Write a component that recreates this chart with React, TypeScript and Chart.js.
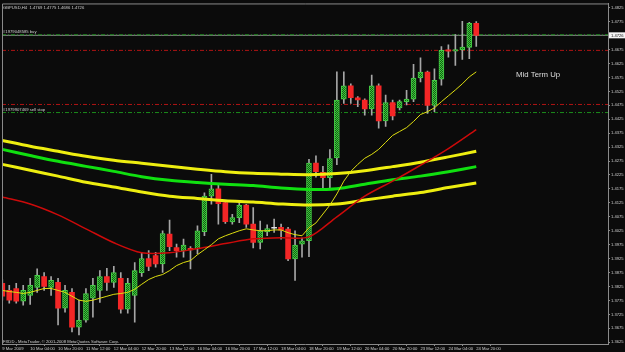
import React, { useEffect, useRef } from "react";
import { Chart, registerables } from "chart.js";

Chart.register(...registerables);

// ---------- data ----------
const SYMBOL = "GBPUSD,H4";
const TIME_LABELS = [
  "9 Mar 2009", "10 Mar 04:00", "10 Mar 20:00", "11 Mar 12:00", "12 Mar 04:00", "12 Mar 20:00",
  "13 Mar 12:00", "16 Mar 04:00", "16 Mar 20:00", "17 Mar 12:00", "18 Mar 04:00", "18 Mar 20:00",
  "19 Mar 12:00", "20 Mar 04:00", "20 Mar 20:00", "23 Mar 12:00", "24 Mar 04:00", "24 Mar 20:00",
];
const TIME_LABEL_STEP = 4;

const OPEN = [
  1.3836, 1.3811, 1.3818, 1.3772, 1.3793, 1.3822, 1.3861, 1.3822, 1.3840, 1.3747,
  1.3804, 1.3679, 1.3704, 1.3783, 1.3811, 1.3861, 1.3840, 1.3854, 1.3744, 1.3793,
  1.3875, 1.3925, 1.3936, 1.3906, 1.4013, 1.3965, 1.3954, 1.3962, 1.3960, 1.4022,
  1.4149, 1.4175, 1.4126, 1.4057, 1.4072, 1.4117, 1.4049, 1.3983, 1.4021, 1.4034,
  1.4037, 1.4031, 1.3924, 1.3977, 1.3989, 1.4268, 1.4235, 1.4215, 1.4286, 1.4497,
  1.4545, 1.4502, 1.4494, 1.4462, 1.4545, 1.4419, 1.4485, 1.4466, 1.4488, 1.4497,
  1.4573, 1.4594, 1.4475, 1.4569, 1.4674, 1.4669, 1.4674, 1.4683, 1.4769,
];
const HIGH = [
  1.3850, 1.3829, 1.3836, 1.3829, 1.3854, 1.3888, 1.3875, 1.3861, 1.3854, 1.3829,
  1.3818, 1.3776, 1.3818, 1.3854, 1.3882, 1.3890, 1.3897, 1.3875, 1.3854, 1.3911,
  1.3947, 1.3954, 1.3948, 1.4025, 1.4063, 1.3977, 1.3995, 1.3968, 1.4043, 1.4161,
  1.4227, 1.4191, 1.4132, 1.4084, 1.4128, 1.4120, 1.4108, 1.4060, 1.4046, 1.4067,
  1.4049, 1.4037, 1.4025, 1.3999, 1.4281, 1.4294, 1.4256, 1.4316, 1.4595, 1.4595,
  1.4552, 1.4506, 1.4498, 1.4583, 1.4552, 1.4512, 1.4494, 1.4494, 1.4529, 1.4622,
  1.4645, 1.4598, 1.4606, 1.4686, 1.4692, 1.4729, 1.4776, 1.4773, 1.4775,
];
const LOW = [
  1.3776, 1.3765, 1.3765, 1.3758, 1.3761, 1.3804, 1.3811, 1.3793, 1.3687, 1.3733,
  1.3662, 1.3651, 1.3697, 1.3715, 1.3768, 1.3811, 1.3822, 1.3729, 1.3729, 1.3697,
  1.3861, 1.3882, 1.3894, 1.3876, 1.3954, 1.3930, 1.3930, 1.3888, 1.3942, 1.4007,
  1.4120, 1.4049, 1.4051, 1.4049, 1.4054, 1.4037, 1.3963, 1.3960, 1.4007, 1.4019,
  1.3995, 1.3918, 1.3847, 1.3930, 1.3932, 1.4217, 1.4176, 1.4179, 1.4262, 1.4482,
  1.4482, 1.4470, 1.4440, 1.4440, 1.4393, 1.4399, 1.4423, 1.4458, 1.4476, 1.4488,
  1.4559, 1.4446, 1.4452, 1.4547, 1.4648, 1.4618, 1.4640, 1.4642, 1.4686,
];
const CLOSE = [
  1.3790, 1.3776, 1.3772, 1.3811, 1.3829, 1.3865, 1.3825, 1.3847, 1.3747, 1.3811,
  1.3679, 1.3704, 1.3800, 1.3829, 1.3861, 1.3840, 1.3875, 1.3744, 1.3836, 1.3882,
  1.3925, 1.3897, 1.3906, 1.4015, 1.3968, 1.3954, 1.3974, 1.3956, 1.4025, 1.4149,
  1.4175, 1.4122, 1.4058, 1.4072, 1.4116, 1.4049, 1.3983, 1.4025, 1.4033, 1.4035,
  1.4027, 1.3924, 1.3974, 1.3989, 1.4268, 1.4237, 1.4215, 1.4284, 1.4494, 1.4545,
  1.4502, 1.4494, 1.4462, 1.4545, 1.4419, 1.4485, 1.4437, 1.4488, 1.4497, 1.4573,
  1.4594, 1.4475, 1.4565, 1.4672, 1.4669, 1.4675, 1.4684, 1.4769, 1.4726,
];

// slow moving averages, sampled every 4 bars
const MA_BARS = [0, 4, 8, 12, 16, 20, 24, 28, 32, 36, 40, 44, 48, 52, 56, 60, 64, 68];
const MA_UPPER = [1.4349, 1.4328, 1.4310, 1.4292, 1.4278, 1.4267, 1.4256, 1.4246, 1.4237, 1.4231, 1.4228, 1.4226, 1.4230, 1.4240, 1.4255, 1.4271, 1.4290, 1.4310];
const MA_MID = [1.4317, 1.4295, 1.4274, 1.4256, 1.4238, 1.4219, 1.4206, 1.4198, 1.4192, 1.4187, 1.4178, 1.4173, 1.4176, 1.4192, 1.4208, 1.4221, 1.4237, 1.4255];
const MA_LOWER = [1.4263, 1.4242, 1.4221, 1.4199, 1.4182, 1.4164, 1.4149, 1.4141, 1.4133, 1.4128, 1.4121, 1.4117, 1.4121, 1.4135, 1.4149, 1.4162, 1.4180, 1.4196];
const MA_RED = [1.4146, 1.4121, 1.4082, 1.4032, 1.3982, 1.3946, 1.3946, 1.3961, 1.3979, 1.3996, 1.4000, 1.4003, 1.4075, 1.4149, 1.4203, 1.4260, 1.4320, 1.4388];
// fast moving average, every bar
const MA_FAST = [
  1.3811, 1.3807, 1.3804, 1.3800, 1.3804, 1.3811, 1.3818, 1.3818, 1.3811, 1.3804,
  1.3790, 1.3776, 1.3772, 1.3776, 1.3783, 1.3790, 1.3797, 1.3800, 1.3804, 1.3815,
  1.3833, 1.3850, 1.3861, 1.3868, 1.3882, 1.3900, 1.3911, 1.3918, 1.3939, 1.3957,
  1.3975, 1.3996, 1.4007, 1.4016, 1.4025, 1.4032, 1.4028, 1.4025, 1.4025, 1.4028,
  1.4028, 1.4018, 1.4011, 1.4007, 1.4036, 1.4053, 1.4085, 1.4117, 1.4157, 1.4203,
  1.4238, 1.4263, 1.4285, 1.4299, 1.4317, 1.4342, 1.4367, 1.4381, 1.4395, 1.4417,
  1.4442, 1.4452, 1.4466, 1.4488, 1.4509, 1.4530, 1.4552, 1.4577, 1.4595,
];

const PRICE_TICKS = [
  1.3625, 1.3675, 1.3725, 1.3775, 1.3825, 1.3875, 1.3925, 1.3975, 1.4025, 1.4075,
  1.4125, 1.4175, 1.4225, 1.4275, 1.4325, 1.4375, 1.4425, 1.4475, 1.4525, 1.4575,
  1.4625, 1.4675, 1.4725, 1.4775, 1.4825,
];

const BUY_PRICE = 1.4728;
const BUY_STOP_LOSS = 1.4672;
const SELL_STOP_PRICE = 1.4449;
const SELL_STOP_LOSS = 1.4478;
const BUY_LABEL = "#1979048585 buy";
const SELL_LABEL = "#1979907469 sell stop";
const NOTE = "Mid Term Up";
const FOOTER = "FXDD - MetaTrader, \u00a9 2001-2008 MetaQuotes Software Corp.";

// ---------- view ----------
const X_MIN = -0.043;
const X_MAX = 86.9;
const Y_MIN = 1.36188;
const Y_MAX = 1.48403;

const BG = "#0b0b0b";
const FRAME = "#8a8a8a";
const TEXT = "#cfcfcf";
const WICK = "#a6a6a6";
const BEAR = "#f42626";
const SMALL_FONT = "'Liberation Sans', Arial, sans-serif";

export default function App() {
  const ref = useRef<HTMLCanvasElement>(null);

  useEffect(() => {
    document.body.style.margin = "0";
    document.body.style.background = BG;
    const canvas = ref.current!;
    const pc = document.createElement("canvas");
    pc.width = 2;
    pc.height = 2;
    const pctx = pc.getContext("2d")!;
    pctx.fillStyle = "#145a14";
    pctx.fillRect(0, 0, 2, 2);
    pctx.fillStyle = "#3ccc3c";
    pctx.fillRect(0, 0, 1, 1);
    pctx.fillRect(1, 1, 1, 1);
    const bullFill = canvas.getContext("2d")!.createPattern(pc, "repeat")!;

    const idx = OPEN.map((_, i) => i);
    const last = CLOSE.length - 1;
    const isBull = (i: number) => CLOSE[i] >= OPEN[i];
    const isDoji = (i: number) => Math.abs(CLOSE[i] - OPEN[i]) < 0.00025;

    const level = (v: number) => [
      { x: X_MIN, y: v },
      { x: X_MAX, y: v },
    ];
    const sampled = (vals: number[]) => MA_BARS.map((b, k) => ({ x: b, y: vals[k] }));

    const bgPlugin = {
      id: "bg",
      beforeDraw(c: any) {
        const ctx = c.ctx;
        ctx.save();
        ctx.fillStyle = BG;
        ctx.fillRect(0, 0, c.width, c.height);
        ctx.restore();
      },
    };

    const textPlugin = {
      id: "texts",
      afterDraw(c: any) {
        const ctx = c.ctx;
        const a = c.chartArea;
        const ys = c.scales.y;
        ctx.save();
        // frame top/left
        ctx.strokeStyle = FRAME;
        ctx.lineWidth = 1;
        ctx.beginPath();
        ctx.moveTo(a.left + 0.5, a.bottom);
        ctx.lineTo(a.left + 0.5, a.top + 0.5);
        ctx.lineTo(a.right, a.top + 0.5);
        ctx.stroke();

        ctx.fillStyle = TEXT;
        ctx.textBaseline = "alphabetic";
        ctx.textAlign = "left";
        ctx.font = `4.2px ${SMALL_FONT}`;
        const header = `${SYMBOL}  ${OPEN[last].toFixed(4)} ${HIGH[last].toFixed(4)} ${LOW[last].toFixed(4)} ${CLOSE[last].toFixed(4)}`;
        ctx.fillText(header, a.left + 1, a.top + 6);
        ctx.fillText(BUY_LABEL, a.left + 1, ys.getPixelForValue(BUY_PRICE) - 1.5);
        ctx.fillText(SELL_LABEL, a.left + 1, ys.getPixelForValue(SELL_STOP_PRICE) - 1.5);
        ctx.fillText(FOOTER, a.left + 1, a.bottom - 1.5);

        ctx.fillStyle = "#dedede";
        ctx.font = `7.8px ${SMALL_FONT}`;
        ctx.fillText(NOTE, 516, 77);

        // bid label
        const py = ys.getPixelForValue(CLOSE[last]);
        ctx.fillStyle = "#f4f4f4";
        ctx.fillRect(a.right + 1, py - 3, c.width - a.right - 1, 6);
        ctx.fillStyle = "#101010";
        ctx.font = `4.1px ${SMALL_FONT}`;
        ctx.textBaseline = "middle";
        ctx.fillText(CLOSE[last].toFixed(4), a.right + 3, py + 0.3);
        ctx.restore();
      },
    };

    const chart = new Chart(canvas, {
      type: "bar",
      data: {
        datasets: [
          {
            type: "line",
            label: "buy",
            data: level(BUY_PRICE),
            borderColor: "#1c8c1c",
            borderWidth: 1,
            borderDash: [4, 2, 1, 2],
            pointRadius: 0,
            order: 20,
          } as any,
          {
            type: "line",
            label: "bid",
            data: level(CLOSE[last]),
            borderColor: "#8e8e8e",
            borderWidth: 1,
            pointRadius: 0,
            order: 21,
          } as any,
          {
            type: "line",
            label: "buy sl",
            data: level(BUY_STOP_LOSS),
            borderColor: "#b01414",
            borderWidth: 1,
            borderDash: [4, 2, 1, 2],
            pointRadius: 0,
            order: 20,
          } as any,
          {
            type: "line",
            label: "sell stop",
            data: level(SELL_STOP_PRICE),
            borderColor: "#1c8c1c",
            borderWidth: 1,
            borderDash: [4, 2, 1, 2],
            pointRadius: 0,
            order: 20,
          } as any,
          {
            type: "line",
            label: "sell sl",
            data: level(SELL_STOP_LOSS),
            borderColor: "#b01414",
            borderWidth: 1,
            borderDash: [4, 2, 1, 2],
            pointRadius: 0,
            order: 20,
          } as any,
          {
            type: "bar",
            label: "wick",
            data: idx.map((i) => ({ x: i, y: [LOW[i], HIGH[i]] })),
            backgroundColor: WICK,
            barThickness: 1,
            grouped: false,
            order: 10,
          } as any,
          {
            type: "bar",
            label: "body",
            data: idx.map((i) => ({ x: i, y: [OPEN[i], CLOSE[i]] })),
            backgroundColor: (c: any) => {
              const i = c.dataIndex;
              if (i == null) return BEAR;
              if (isDoji(i)) return "#e0e0e0";
              return isBull(i) ? bullFill : BEAR;
            },
            borderColor: (c: any) => {
              const i = c.dataIndex;
              if (i == null) return "#44d044";
              if (isDoji(i)) return "#e0e0e0";
              return isBull(i) ? "#46cc46" : BEAR;
            },
            borderWidth: (c: any) => {
              const i = c.dataIndex;
              if (i == null) return 0;
              return isBull(i) && !isDoji(i) ? 1 : 0;
            },
            borderSkipped: false,
            barThickness: 5,
            minBarLength: 1,
            grouped: false,
            order: 9,
          } as any,
          {
            type: "line",
            label: "upper",
            data: sampled(MA_UPPER),
            borderColor: "#eeee10",
            borderWidth: 3,
            pointRadius: 0,
            tension: 0.3,
            order: 3,
          } as any,
          {
            type: "line",
            label: "mid",
            data: sampled(MA_MID),
            borderColor: "#10e010",
            borderWidth: 3,
            pointRadius: 0,
            tension: 0.3,
            order: 3,
          } as any,
          {
            type: "line",
            label: "lower",
            data: sampled(MA_LOWER),
            borderColor: "#eeee10",
            borderWidth: 3,
            pointRadius: 0,
            tension: 0.3,
            order: 3,
          } as any,
          {
            type: "line",
            label: "red",
            data: sampled(MA_RED),
            borderColor: "#cc0a0a",
            borderWidth: 1.5,
            pointRadius: 0,
            tension: 0.3,
            order: 2,
          } as any,
          {
            type: "line",
            label: "fast",
            data: idx.map((i) => ({ x: i, y: MA_FAST[i] })),
            borderColor: "#dede10",
            borderWidth: 1,
            pointRadius: 0,
            tension: 0,
            order: 1,
          } as any,
        ],
      },
      options: {
        responsive: false,
        devicePixelRatio: 1,
        animation: false,
        events: [],
        layout: { padding: { left: 2, top: 1, right: 0, bottom: 0 } },
        plugins: { legend: { display: false }, tooltip: { enabled: false } },
        scales: {
          x: {
            type: "linear",
            position: "bottom",
            min: X_MIN,
            max: X_MAX,
            offset: false,
            afterBuildTicks: (s: any) => {
              s.ticks = TIME_LABELS.map((_, k) => ({ value: k * TIME_LABEL_STEP }));
            },
            afterFit: (s: any) => {
              s.height = 8;
            },
            ticks: {
              autoSkip: false,
              maxRotation: 0,
              minRotation: 0,
              align: "start",
              padding: 0,
              color: TEXT,
              font: { size: 4.2, family: SMALL_FONT },
              callback: (_v: any, k: number) => TIME_LABELS[k],
            },
            grid: { drawOnChartArea: false, tickLength: 2, color: FRAME },
            border: { color: FRAME },
          },
          y: {
            type: "linear",
            position: "right",
            min: Y_MIN,
            max: Y_MAX,
            afterBuildTicks: (s: any) => {
              s.ticks = PRICE_TICKS.filter((t) => Math.abs(t - CLOSE[CLOSE.length - 1]) > 0.002).map((v) => ({ value: v }));
            },
            afterFit: (s: any) => {
              s.width = 17;
            },
            ticks: {
              padding: 1,
              color: TEXT,
              font: { size: 4.1, family: SMALL_FONT },
              callback: (v: any) => Number(v).toFixed(4),
            },
            grid: { drawOnChartArea: false, tickLength: 2, color: FRAME },
            border: { color: FRAME },
          },
        },
      } as any,
      plugins: [bgPlugin, textPlugin],
    });
    return () => chart.destroy();
  }, []);

  return (
    <div style={{ position: "fixed", left: 0, top: 0, width: 625, height: 352, background: BG }}>
      <canvas ref={ref} width={625} height={352} style={{ display: "block", width: 625, height: 352 }} />
    </div>
  );
}
